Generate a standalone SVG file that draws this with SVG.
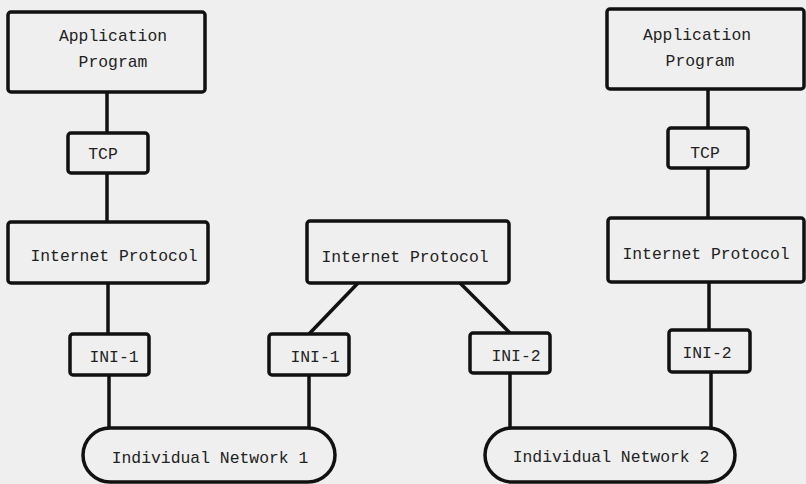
<svg xmlns="http://www.w3.org/2000/svg" width="806" height="484" viewBox="0 0 806 484">
  <defs>
    <style>
      .box { fill: #efefef; stroke: #111; stroke-width: 3.5; stroke-linejoin: round; }
      .wire { fill: none; stroke: #111; stroke-width: 3.5; stroke-linecap: butt; }
      .lbl { font-family: "Liberation Mono", "DejaVu Sans Mono", monospace; font-size: 16.4px; fill: #222; text-anchor: middle; }
    </style>
  </defs>
  <rect x="0" y="0" width="806" height="484" fill="#efefef"/>

  <!-- links between the protocol layers -->
  <g id="connectors">
    <line class="wire" x1="107" y1="92" x2="107" y2="133"/>
    <line class="wire" x1="107" y1="173" x2="107" y2="222"/>
    <line class="wire" x1="108" y1="283" x2="108" y2="334"/>
    <line class="wire" x1="109" y1="375" x2="109" y2="428"/>

    <line class="wire" x1="358" y1="283" x2="309" y2="334"/>
    <line class="wire" x1="309" y1="375" x2="309" y2="428"/>
    <line class="wire" x1="460" y1="283" x2="510" y2="333"/>
    <line class="wire" x1="510" y1="373" x2="510" y2="428"/>

    <line class="wire" x1="708" y1="89" x2="708" y2="128"/>
    <line class="wire" x1="708" y1="168" x2="708" y2="218"/>
    <line class="wire" x1="709" y1="282" x2="709" y2="330"/>
    <line class="wire" x1="711" y1="372" x2="711" y2="428"/>
  </g>

  <!-- host A stack -->
  <g id="app-left">
    <rect class="box" x="8" y="12" width="197" height="80" rx="3"/>
    <text class="lbl" x="113" y="41">Application</text>
    <text class="lbl" x="113" y="67">Program</text>
  </g>
  <g id="tcp-left">
    <rect class="box" x="68" y="133" width="80" height="40" rx="3"/>
    <text class="lbl" x="103" y="159">TCP</text>
  </g>
  <g id="ip-left">
    <rect class="box" x="8" y="222" width="200" height="61" rx="3"/>
    <text class="lbl" x="114" y="261">Internet Protocol</text>
  </g>
  <g id="ini1-left">
    <rect class="box" x="70" y="334" width="79" height="41" rx="3"/>
    <text class="lbl" x="114" y="362">INI-1</text>
  </g>

  <!-- gateway stack -->
  <g id="ip-gateway">
    <rect class="box" x="307" y="221" width="202" height="62" rx="3"/>
    <text class="lbl" x="405" y="262">Internet Protocol</text>
  </g>
  <g id="ini1-gateway">
    <rect class="box" x="269" y="334" width="80" height="41" rx="3"/>
    <text class="lbl" x="315" y="362">INI-1</text>
  </g>
  <g id="ini2-gateway">
    <rect class="box" x="470" y="333" width="80" height="40" rx="3"/>
    <text class="lbl" x="516" y="361">INI-2</text>
  </g>

  <!-- host B stack -->
  <g id="app-right">
    <rect class="box" x="607" y="9" width="197" height="80" rx="3"/>
    <text class="lbl" x="697" y="40">Application</text>
    <text class="lbl" x="700" y="66">Program</text>
  </g>
  <g id="tcp-right">
    <rect class="box" x="668" y="128" width="80" height="40" rx="3"/>
    <text class="lbl" x="705" y="158">TCP</text>
  </g>
  <g id="ip-right">
    <rect class="box" x="608" y="218" width="196" height="64" rx="3"/>
    <text class="lbl" x="706" y="259">Internet Protocol</text>
  </g>
  <g id="ini2-right">
    <rect class="box" x="669" y="330" width="81" height="42" rx="3"/>
    <text class="lbl" x="707" y="358">INI-2</text>
  </g>

  <!-- networks -->
  <g id="network-1">
    <rect class="box" x="83" y="428" width="252" height="54" rx="27"/>
    <text class="lbl" x="210" y="463">Individual Network 1</text>
  </g>
  <g id="network-2">
    <rect class="box" x="485" y="428" width="250" height="54" rx="27"/>
    <text class="lbl" x="611" y="462">Individual Network 2</text>
  </g>
</svg>
